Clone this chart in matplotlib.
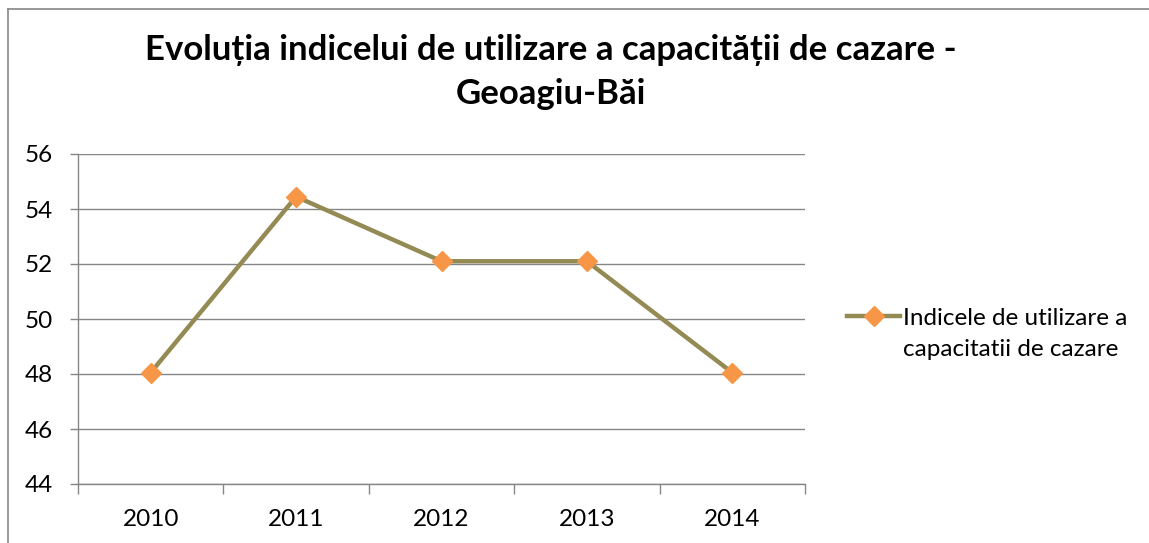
import matplotlib.pyplot as plt
import numpy as np
from matplotlib.lines import Line2D

# data
years = ["2010", "2011", "2012", "2013", "2014"]
indice = [48.05, 54.45, 52.1, 52.1, 48.05]
series_line1 = "Indicele de utilizare a"
series_line2 = "capacitatii de cazare"
title_text = "Evoluția indicelui de utilizare a capacității de cazare -\nGeoagiu-Băi"

line_col = "#948A54"
mark_col = "#F79646"
grid_col = "#868686"

plt.rcParams['font.family'] = ['Lato', 'DejaVu Sans']

fig = plt.figure(figsize=(11.49, 5.43), dpi=100)
ax = fig.add_axes([78/1149, 1-484/543, (805-78)/1149, (484-154)/543])

x = np.arange(len(years))
ax.plot(x, indice, color=line_col, lw=3.2, marker='D', markersize=10,
        markerfacecolor=mark_col, markeredgecolor=mark_col, zorder=3)

ax.set_xlim(-0.5, len(years) - 0.5)
ax.set_ylim(44, 56)
ax.set_yticks(np.arange(44, 57, 2))
ax.set_xticks(x)
ax.set_xticklabels(years)
ax.set_xticks(np.arange(-0.5, len(years), 1), minor=True)

ax.tick_params(axis='x', which='major', length=0, pad=18, labelsize=17.5)
ax.tick_params(axis='x', which='minor', length=7, color=grid_col, width=1)
ax.tick_params(axis='y', length=6, color=grid_col, width=1, pad=12, labelsize=17.5)

ax.grid(axis='y', color=grid_col, lw=1)
ax.set_axisbelow(True)
for s in ['top', 'right']:
    ax.spines[s].set_visible(False)
for s in ['left', 'bottom']:
    ax.spines[s].set_color(grid_col)
    ax.spines[s].set_linewidth(1)

fig.text(551/1149, 1-72/543, title_text, ha='center', va='center',
         fontsize=25, fontweight='bold', linespacing=1.45)

# legend on the right: handle sits on the first line of the label
handle = Line2D([], [], color=line_col, lw=3.2, marker='D', markersize=10,
                markerfacecolor=mark_col, markeredgecolor=mark_col)
fig.legend([handle], [series_line1], loc='center left',
           bbox_to_anchor=(825/1149, 1-318/543), frameon=False,
           fontsize=17.5, handlelength=2.2, handletextpad=0.1)
fig.text(903/1149, 1-350/543, series_line2, ha='left', va='center', fontsize=17.5)

# chart border (only top and left visible in reference)
fig.add_artist(Line2D([8/1149, 8/1149], [0, 1-9/543], color='#868686', lw=1.2))
fig.add_artist(Line2D([8/1149, 1], [1-9/543, 1-9/543], color='#868686', lw=1.2))

fig.savefig("out.png", dpi=100)
